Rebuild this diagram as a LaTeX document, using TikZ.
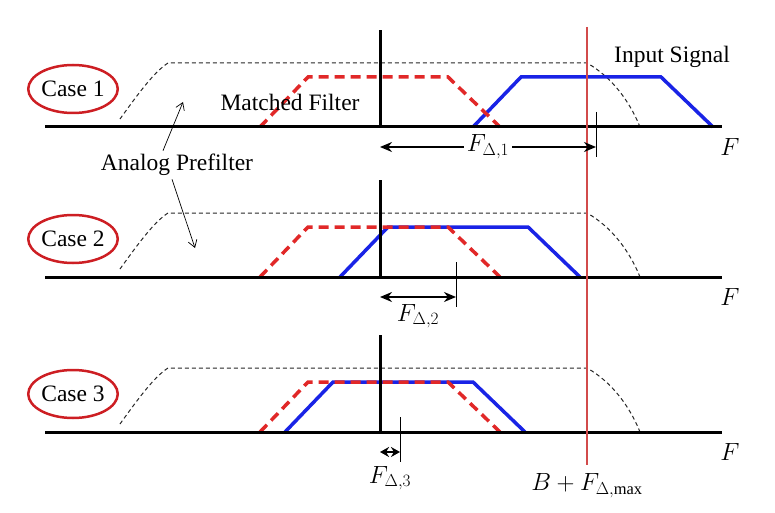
\documentclass[tikz,border=0pt]{standalone}
\usepackage{fontspec}
\setmainfont{Liberation Serif}
\usetikzlibrary{shapes.geometric,arrows.meta,positioning}
\definecolor{sigblue}{RGB}{25,35,230}
\definecolor{mfred}{RGB}{225,40,40}
\definecolor{limred}{RGB}{210,75,75}
\definecolor{casered}{RGB}{205,30,35}

\begin{document}
\begin{tikzpicture}[
    x=1pt, y=-1pt,
    font=\fontsize{23.5}{28}\selectfont,
    axis/.style={line width=3pt},
    prefilt/.style={line width=1pt, black!85, dash pattern=on 4pt off 3pt},
    mfilt/.style={mfred, line width=3.5pt, dash pattern=on 10pt off 6pt},
    insig/.style={sigblue, line width=3.5pt, line join=miter},
    caselbl/.style={draw=casered, ellipse, line width=2.5pt, minimum width=82pt, minimum height=48pt, inner sep=0pt},
    delta/.style={{Stealth[length=12pt,width=10pt]}-{Stealth[length=12pt,width=10pt]}, line width=1.5pt},
    tickmark/.style={line width=1pt},
    pointer/.style={-{Straight Barb[length=7pt,width=9pt]}, line width=0.7pt}
]
\useasboundingbox (0,0) rectangle (775,513);

% the three cases: axis, prefilter, input signal, matched filter
\foreach \i/\ax/\s/\d in {1/127/213/216, 2/277/80/76, 3/432/25/20}{
  \begin{scope}[shift={(0,\ax)}]
    \draw[prefilt] (120,-8) .. controls (138,-33) and (154,-55) .. (168,-64)
      -- (587,-64) .. controls (612,-50) and (630,-25) .. (640,0);
    \draw[insig] (260+\s,0) -- (308+\s,-50) -- (448+\s,-50) -- (500+\s,0);
    \draw[mfilt] (260,0) -- (308,-50) -- (448,-50) -- (500,0);
    \draw[axis] (45,0) -- (722,0);
    \draw[axis] (380,0) -- (380,-97);
    \node[caselbl] (case\i) at (73,-38) {Case \i};
    \node (freq\i) at (730,20) {$F$};
    \coordinate (orig\i) at (380,20);
    \coordinate (shift\i) at (380+\d,20);
    \draw[tickmark] (380+\d,-15) -- (380+\d,30);
  \end{scope}
}

% limit B + F_max
\coordinate (limtop) at (587,27);
\coordinate (limbot) at (587,465);
\draw[limred, line width=1.5pt] (limtop) -- (limbot);
\node[below=5pt of limbot] (limlbl) {$B+F_{\Delta,\max}$};

% frequency offsets
\draw[delta] (orig1) -- node[fill=white, inner sep=3pt] (fd1) {$F_{\Delta,1}$} (shift1);
\draw[delta] (orig2) -- node[below=3pt] (fd2) {$F_{\Delta,2}$} (shift2);
\draw[line width=1.5pt, {Stealth[length=9pt,width=10pt]}-{Stealth[length=9pt,width=10pt]}] (orig3) -- node[below=10pt] (fd3) {$F_{\Delta,3}$} (shift3);

% labels
\node (insiglbl) at (672,57) {Input Signal};
\node (mflbl) at (290,102) {Matched Filter};
\node (apflbl) at (177,165) {Analog Prefilter};
\coordinate (pf1) at (183,102);
\coordinate (pf2) at (195,248);
\draw[pointer] ([xshift=-14pt]apflbl.north) -- (pf1);
\draw[pointer] ([xshift=-5pt]apflbl.south) -- (pf2);
\end{tikzpicture}
\end{document}
